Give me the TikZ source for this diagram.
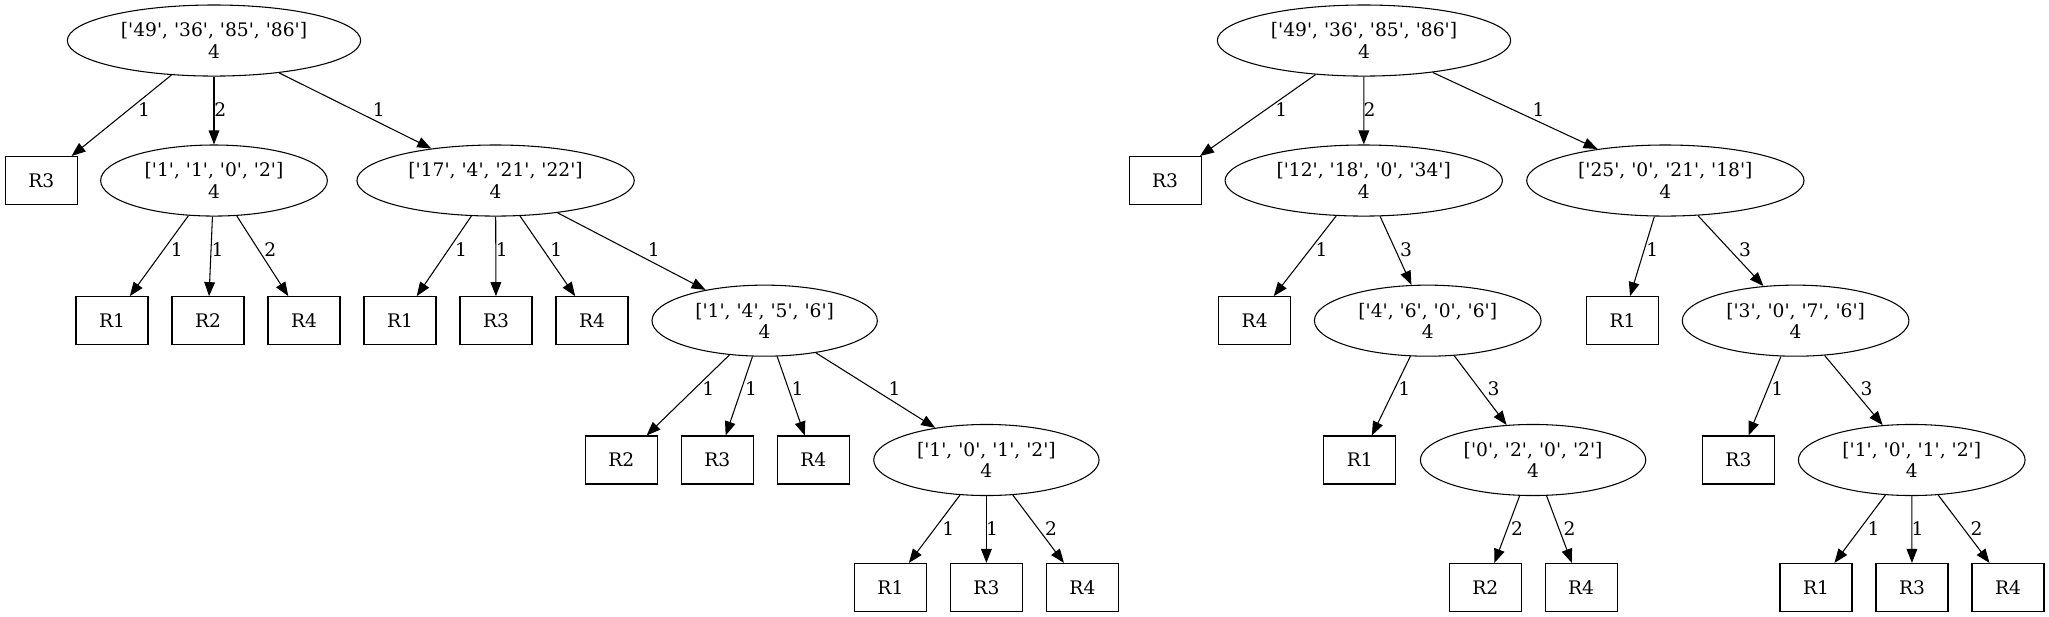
\documentclass[tikz,border=0pt]{standalone}
\usepackage{fontspec}
\newfontfamily\gvfont{DejaVu Serif}[Ligatures=TeXOff]
\usetikzlibrary{shapes.geometric,arrows.meta}
\tikzset{
  gv/.style={font=\gvfont\fontsize{14}{16}\selectfont},
  ell/.style={gv,draw,ellipse,inner sep=0pt,minimum height=53.3pt,align=center,line width=0.8pt},
  leaf/.style={gv,draw,rectangle,inner sep=0pt,minimum width=54pt,minimum height=36pt,line width=0.8pt},
  edge/.style={draw,line width=0.8pt,-{Triangle[length=10.5pt,width=8pt]}},
  lbl/.style={gv,inner sep=0pt,anchor=center}
}
\begin{document}
\begin{tikzpicture}[x=1pt,y=-1pt]
\useasboundingbox (0,0) rectangle (1536.75,462.75);
% ---------- left tree ----------
\node[ell,minimum width=220pt] (a0) at (160.5,30.4) {['49', '36', '85', '86']\\4};
\node[leaf] (a1) at (31,135.4) {R3};
\node[ell,minimum width=170pt] (a2) at (160.5,135.4) {['1', '1', '0', '2']\\4};
\node[ell,minimum width=208pt] (a3) at (371.7,135.4) {['17', '4', '21', '22']\\4};
\node[leaf] (a4) at (84,240.5) {R1};
\node[leaf] (a5) at (156,240.5) {R2};
\node[leaf] (a6) at (228,240.5) {R4};
\node[leaf] (a7) at (300,240.5) {R1};
\node[leaf] (a8) at (372,240.5) {R3};
\node[leaf] (a9) at (444,240.5) {R4};
\node[ell,minimum width=169pt] (a10) at (573.5,240.5) {['1', '4', '5', '6']\\4};
\node[leaf] (a11) at (466,345) {R2};
\node[leaf] (a12) at (538,345) {R3};
\node[leaf] (a13) at (610,345) {R4};
\node[ell,minimum width=169pt] (a14) at (739.8,345) {['1', '0', '1', '2']\\4};
\node[leaf] (a15) at (667.8,440.6) {R1};
\node[leaf] (a16) at (739.8,440.6) {R3};
\node[leaf] (a17) at (811.8,440.6) {R4};
\draw[edge] (a0) -- (a1) node[lbl] (la1) at (108,82.5) {1};
\draw[edge] (a0) -- (a2) node[lbl] (la2) at (165.3,82.5) {2};
\draw[edge] (a0) -- (a3) node[lbl] (la3) at (284.1,82.5) {1};
\draw[edge] (a2) -- (a4) node[lbl] (la4) at (132.6,187.5) {1};
\draw[edge] (a2) -- (a5) node[lbl] (la5) at (163.2,187.5) {1};
\draw[edge] (a2) -- (a6) node[lbl] (la6) at (202.7,187.5) {2};
\draw[edge] (a3) -- (a7) node[lbl] (la7) at (345.7,187.5) {1};
\draw[edge] (a3) -- (a8) node[lbl] (la8) at (376.3,187.5) {1};
\draw[edge] (a3) -- (a9) node[lbl] (la9) at (417.3,187.5) {1};
\draw[edge] (a3) -- (a10) node[lbl] (la10) at (490.3,187.5) {1};
\draw[edge] (a10) -- (a11) node[lbl] (la11) at (531.2,291.3) {1};
\draw[edge] (a10) -- (a12) node[lbl] (la12) at (563.3,291.3) {1};
\draw[edge] (a10) -- (a13) node[lbl] (la13) at (598.1,291.3) {1};
\draw[edge] (a10) -- (a14) node[lbl] (la14) at (671,291.3) {1};
\draw[edge] (a14) -- (a15) node[lbl] (la15) at (711.2,396.3) {1};
\draw[edge] (a14) -- (a16) node[lbl] (la16) at (744.1,396.3) {1};
\draw[edge] (a14) -- (a17) node[lbl] (la17) at (788.3,396.3) {2};
% ---------- right tree ----------
\node[ell,minimum width=220pt] (b0) at (1023,30.4) {['49', '36', '85', '86']\\4};
\node[leaf] (b1) at (873.8,135.4) {R3};
\node[ell,minimum width=208pt] (b2) at (1022.8,135.4) {['12', '18', '0', '34']\\4};
\node[ell,minimum width=208pt] (b3) at (1249,135.4) {['25', '0', '21', '18']\\4};
\node[leaf] (b4) at (941,240.5) {R4};
\node[ell,minimum width=170pt] (b5) at (1070.8,240.5) {['4', '6', '0', '6']\\4};
\node[leaf] (b6) at (1216.9,240.5) {R1};
\node[ell,minimum width=170pt] (b7) at (1346.7,240.5) {['3', '0', '7', '6']\\4};
\node[leaf] (b8) at (1019.9,345) {R1};
\node[ell,minimum width=169pt] (b9) at (1149.8,345) {['0', '2', '0', '2']\\4};
\node[leaf] (b10) at (1303.8,345) {R3};
\node[ell,minimum width=170pt] (b11) at (1433.8,345) {['1', '0', '1', '2']\\4};
\node[leaf] (b12) at (1113.9,440.6) {R2};
\node[leaf] (b13) at (1185.8,440.6) {R4};
\node[leaf] (b14) at (1362,440.6) {R1};
\node[leaf] (b15) at (1434,440.6) {R3};
\node[leaf] (b16) at (1506,440.6) {R4};
\draw[edge] (b0) -- (b1) node[lbl] (lb1) at (961,82.5) {1};
\draw[edge] (b0) -- (b2) node[lbl] (lb2) at (1027.2,82.5) {2};
\draw[edge] (b0) -- (b3) node[lbl] (lb3) at (1153.9,82.5) {1};
\draw[edge] (b2) -- (b4) node[lbl] (lb4) at (991.1,187.5) {1};
\draw[edge] (b2) -- (b5) node[lbl] (lb5) at (1054.5,187.5) {3};
\draw[edge] (b3) -- (b6) node[lbl] (lb6) at (1239.2,187.5) {1};
\draw[edge] (b3) -- (b7) node[lbl] (lb7) at (1308.8,187.5) {3};
\draw[edge] (b5) -- (b8) node[lbl] (lb8) at (1053.2,291.3) {1};
\draw[edge] (b5) -- (b9) node[lbl] (lb9) at (1120.2,291.3) {3};
\draw[edge] (b7) -- (b10) node[lbl] (lb10) at (1332.9,291.3) {1};
\draw[edge] (b7) -- (b11) node[lbl] (lb11) at (1399.9,291.3) {3};
\draw[edge] (b9) -- (b12) node[lbl] (lb12) at (1137.8,396.3) {2};
\draw[edge] (b9) -- (b13) node[lbl] (lb13) at (1177.2,396.3) {2};
\draw[edge] (b11) -- (b14) node[lbl] (lb14) at (1405.2,396.3) {1};
\draw[edge] (b11) -- (b15) node[lbl] (lb15) at (1438.2,396.3) {1};
\draw[edge] (b11) -- (b16) node[lbl] (lb16) at (1482.4,396.3) {2};
\end{tikzpicture}
\end{document}
